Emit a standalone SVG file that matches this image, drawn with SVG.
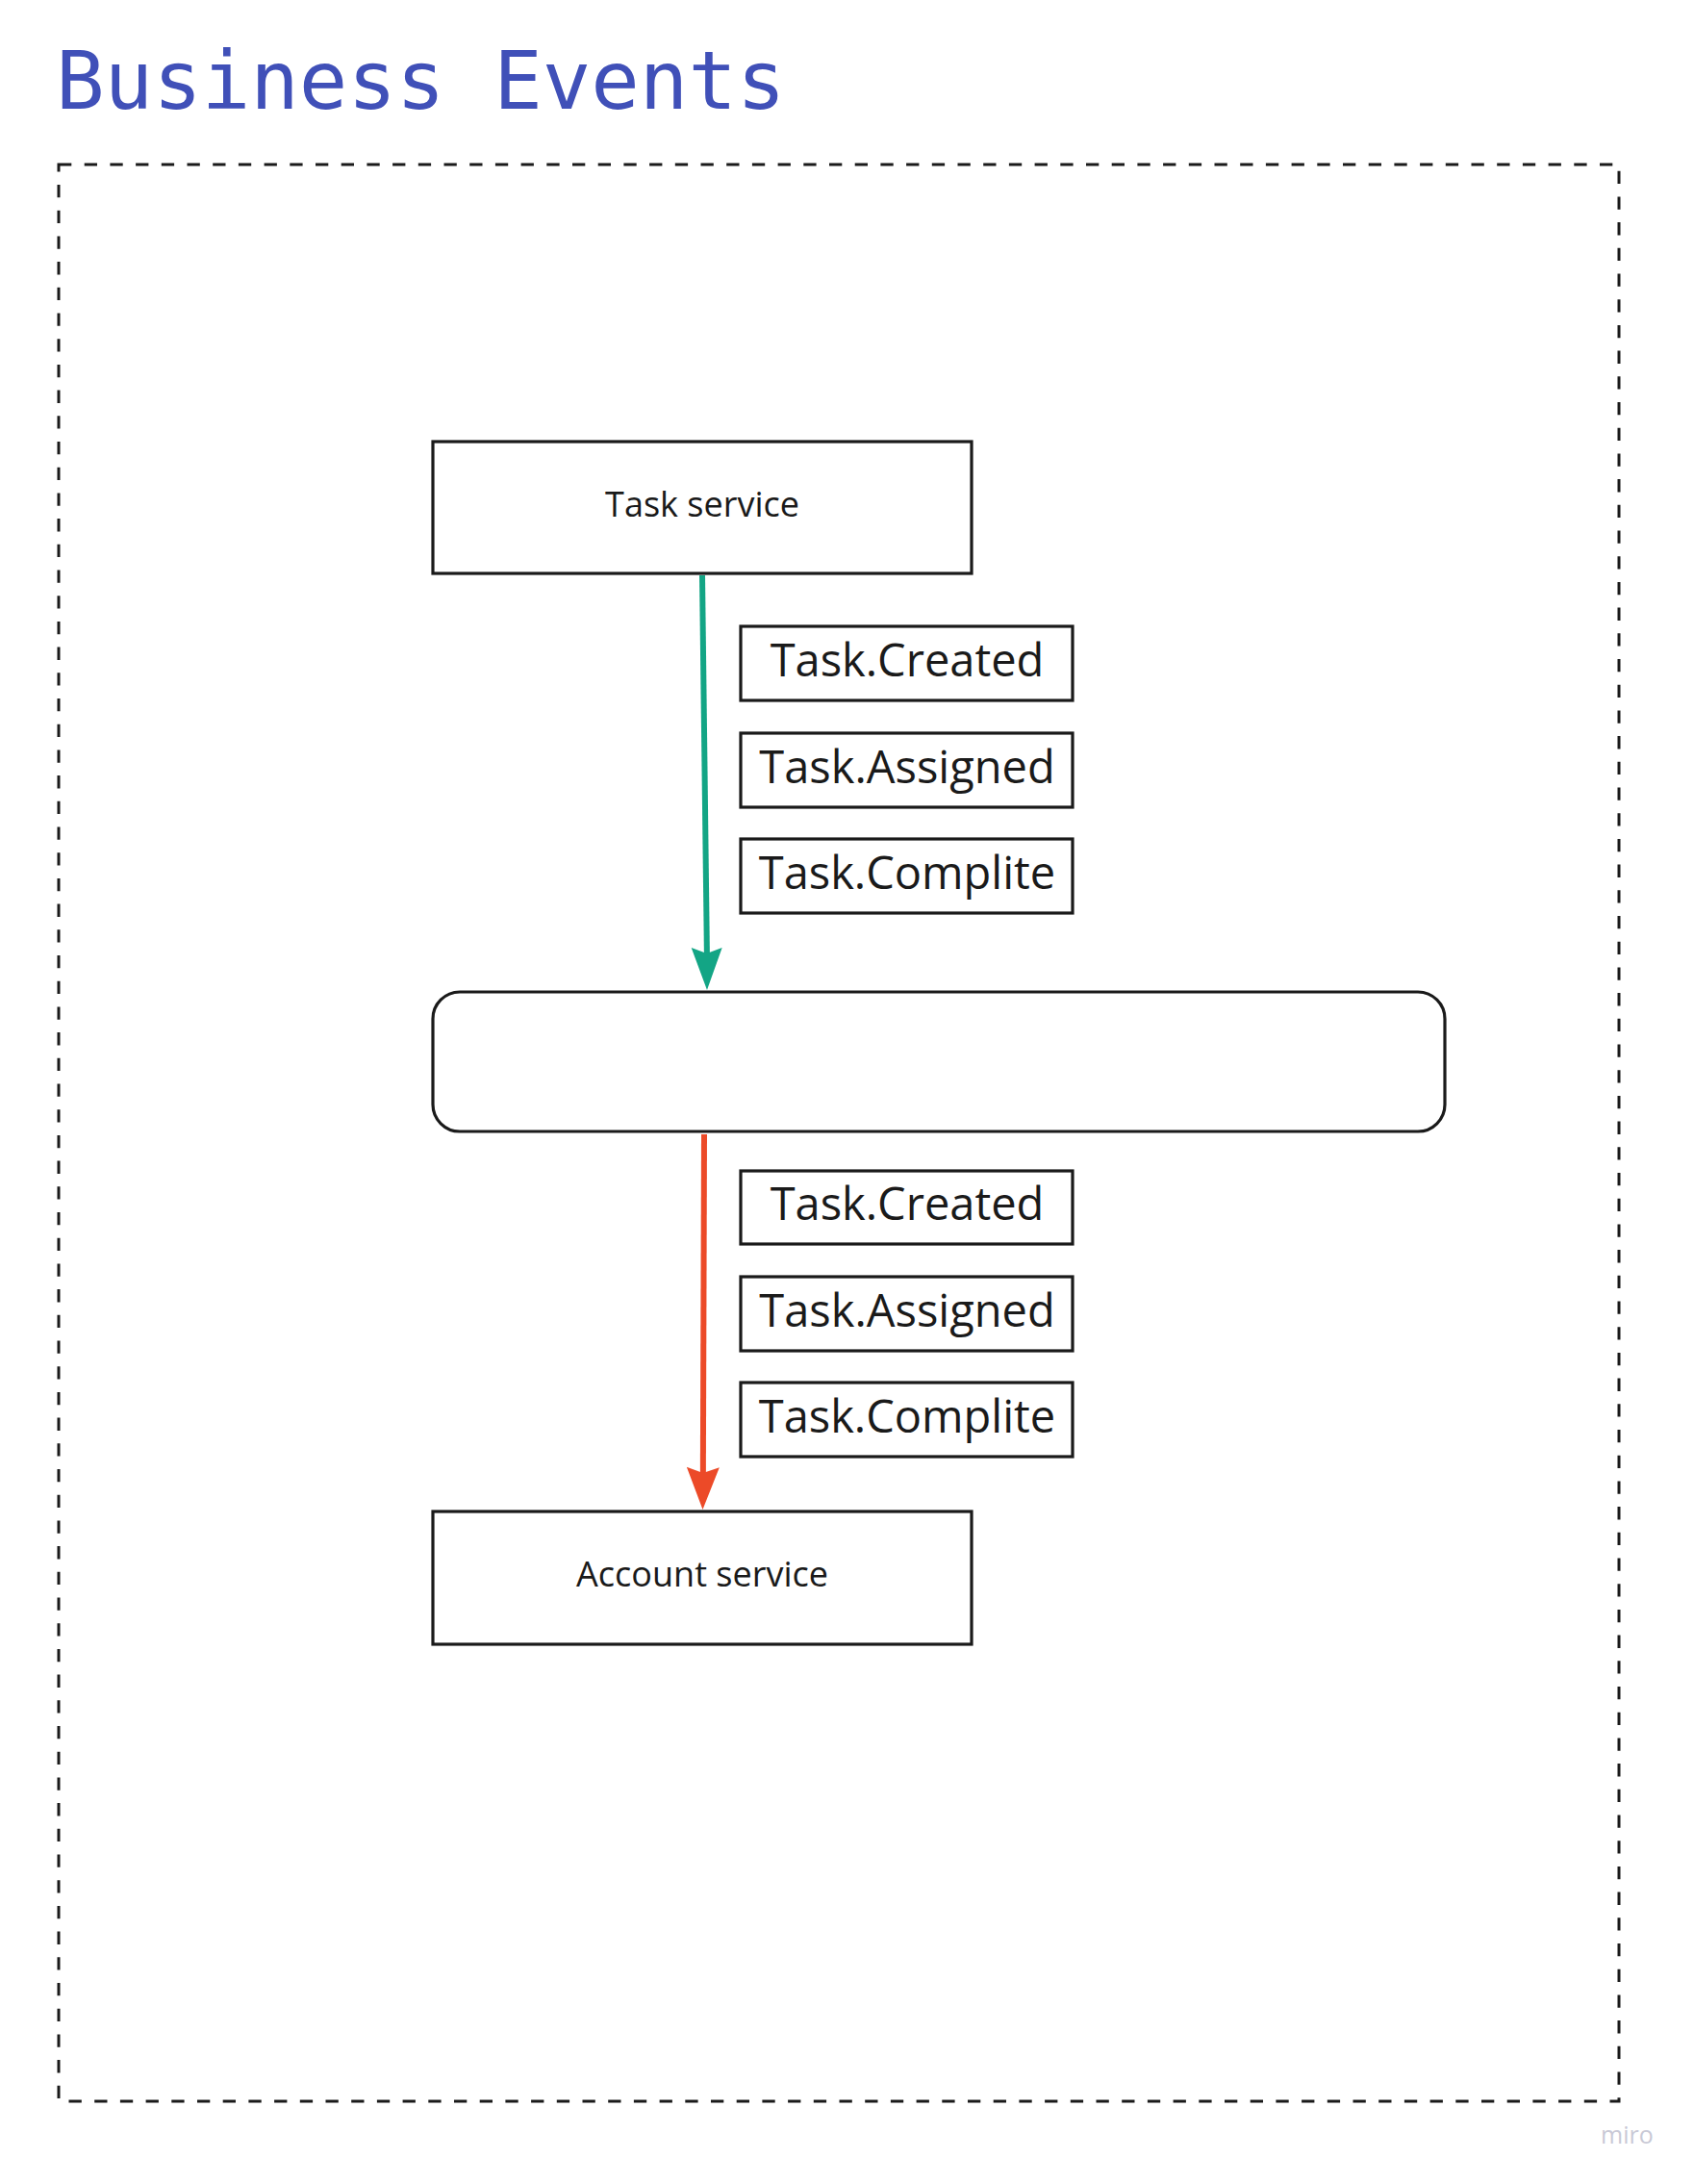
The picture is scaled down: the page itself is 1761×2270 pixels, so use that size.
<svg xmlns="http://www.w3.org/2000/svg" width="1761" height="2270" viewBox="0 0 1761 2270">
<style>
.title{font-family:"DejaVu Sans Mono","Liberation Mono",monospace;font-size:84px;fill:#4050b8}
.box{fill:#ffffff;stroke:#1a1a1a;stroke-width:3.2}
.svc{font-family:"Open Sans","Noto Sans",sans-serif;font-size:36px;fill:#1a1a1a;text-anchor:middle}
.evt{font-family:"Open Sans","Noto Sans",sans-serif;font-size:47px;fill:#1a1a1a;text-anchor:middle}
.frame{fill:none;stroke:#1a1a1a;stroke-width:3;stroke-dasharray:13.3 13.4}
.wm{font-family:"Open Sans","Noto Sans",sans-serif;font-size:25px;fill:#c9c9d6}
</style>
<defs>
<marker id="ag" markerUnits="userSpaceOnUse" markerWidth="54" markerHeight="40" viewBox="-48 -20 54 40" refX="0" refY="0" orient="auto">
<path d="M0,0 L-44,-16 L-38,0 L-44,16 Z" fill="#13a585"/>
</marker>
<marker id="ar" markerUnits="userSpaceOnUse" markerWidth="54" markerHeight="40" viewBox="-48 -20 54 40" refX="0" refY="0" orient="auto">
<path d="M0,0 L-44,-17 L-38,0 L-44,17 Z" fill="#ec4a28"/>
</marker>
</defs>
<rect width="1761" height="2270" fill="#ffffff"/>
<text class="title" x="58" y="113">Business Events</text>
<rect class="frame" x="61" y="171" width="1622" height="2013"/>
<g id="connectors">
<path d="M730,598 L735,1000" fill="none" stroke="#13a585" stroke-width="6"/>
<path d="M734.7,990 L735,1029" fill="none" stroke="none" marker-end="url(#ag)"/>
<path d="M732,1179 L730.8,1545" fill="none" stroke="#ec4a28" stroke-width="6"/>
<path d="M730.8,1530 L730.5,1569" fill="none" stroke="none" marker-end="url(#ar)"/>
</g>
<g id="task-service">
<rect class="box" x="450" y="459" width="560" height="137"/>
<text class="svc" x="730" y="537">Task service</text>
</g>
<g id="bus">
<rect class="box" x="450" y="1031" width="1052" height="145" rx="28" ry="28"/>
</g>
<g id="account-service">
<rect class="box" x="450" y="1571" width="560" height="138"/>
<text class="svc" x="730" y="1649">Account service</text>
</g>
<g id="evt-created-1">
<rect class="box" x="770" y="651" width="345" height="77"/>
<text class="evt" x="943" y="703">Task.Created</text>
</g>
<g id="evt-assigned-1">
<rect class="box" x="770" y="762" width="345" height="77"/>
<text class="evt" x="943" y="814">Task.Assigned</text>
</g>
<g id="evt-complite-1">
<rect class="box" x="770" y="872" width="345" height="77"/>
<text class="evt" x="943" y="924">Task.Complite</text>
</g>
<g id="evt-created-2">
<rect class="box" x="770" y="1217" width="345" height="76"/>
<text class="evt" x="943" y="1268">Task.Created</text>
</g>
<g id="evt-assigned-2">
<rect class="box" x="770" y="1327" width="345" height="77"/>
<text class="evt" x="943" y="1379">Task.Assigned</text>
</g>
<g id="evt-complite-2">
<rect class="box" x="770" y="1437" width="345" height="77"/>
<text class="evt" x="943" y="1489">Task.Complite</text>
</g>
<text class="wm" x="1664" y="2228">miro</text>
</svg>
